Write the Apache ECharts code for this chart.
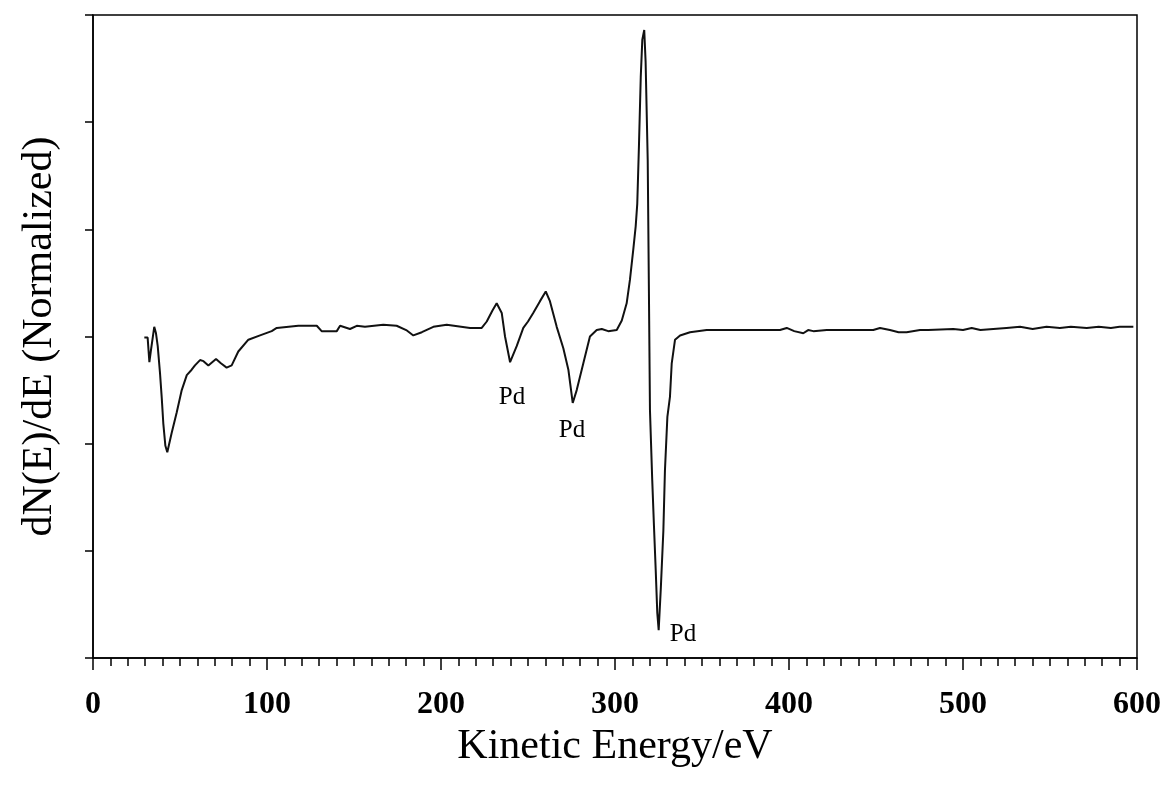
<!DOCTYPE html>
<html>
<head>
<meta charset="utf-8">
<title>Auger spectrum</title>
<script src="https://cdn.jsdelivr.net/npm/echarts@6/dist/echarts.min.js"></script>
<style>
  html, body { margin: 0; padding: 0; background: #fff; }
  #chart { width: 1162px; height: 791px; }
</style>
</head>
<body>
<div id="chart"></div>
<script>
// kinetic energy (eV) and dN(E)/dE
const energy = [
  29.5, 31.4, 32.4, 33.2, 35.2, 36.2, 37.2, 38.5, 39.5, 40.4, 41.6, 42.7, 45.2, 48.1, 51.0,
  53.9, 56.7, 58.6, 61.5, 63.5, 66.3, 70.7, 73.5, 76.8, 79.7, 83.5, 89.3, 96.0, 102.7, 105.6,
  118.0, 128.6, 131.4, 140.1, 142.0, 147.7, 151.6, 156.3, 166.8, 174.5, 180.0, 184.1, 189.0, 195.6, 203.3,
  216.7, 223.4, 226.3, 229.5, 232.0, 234.9, 236.8, 239.7, 243.5, 247.3, 250.0, 253.0, 256.9, 260.2, 262.6,
  266.5, 270.3, 273.2, 275.7, 278.0, 281.8, 285.6, 289.5, 292.4, 296.1, 301.0, 303.9, 306.7, 308.6, 310.5,
  311.9, 312.8, 313.8, 314.8, 315.7, 316.8, 317.6, 318.8, 319.5, 320.1, 321.4, 322.4, 323.4, 324.3, 325.1,
  326.3, 327.8, 328.7, 330.1, 331.6, 332.6, 334.5, 337.4, 343.1, 352.7, 370.0, 380.0, 394.8, 398.7, 403.0,
  408.2, 411.0, 414.0, 421.7, 448.4, 452.3, 458.0, 463.0, 467.6, 475.3, 480.0, 494.4, 500.0, 505.0, 510.0,
  517.4, 525.0, 532.8, 540.0, 548.0, 555.7, 562.0, 571.1, 578.0, 585.0, 590.0, 597.9
];
const intensity = [
  2.99, 2.99, 2.76, 2.86, 3.09, 3.03, 2.91, 2.66, 2.43, 2.19, 1.98, 1.92, 2.10, 2.29, 2.50,
  2.64, 2.69, 2.73, 2.78, 2.77, 2.73, 2.79, 2.75, 2.71, 2.73, 2.86, 2.97, 3.01, 3.05, 3.08,
  3.10, 3.10, 3.05, 3.05, 3.10, 3.07, 3.10, 3.09, 3.11, 3.10, 3.06, 3.01, 3.04, 3.09, 3.11,
  3.08, 3.08, 3.14, 3.24, 3.31, 3.22, 3.00, 2.76, 2.91, 3.08, 3.14, 3.22, 3.33, 3.42, 3.33,
  3.09, 2.89, 2.69, 2.38, 2.50, 2.75, 3.00, 3.06, 3.07, 3.05, 3.06, 3.15, 3.31, 3.53, 3.81,
  4.03, 4.24, 4.80, 5.42, 5.77, 5.86, 5.56, 4.65, 3.40, 2.31, 1.66, 1.23, 0.82, 0.42, 0.26,
  0.64, 1.19, 1.75, 2.25, 2.44, 2.75, 2.97, 3.01, 3.04, 3.06, 3.06, 3.06, 3.06, 3.08, 3.05,
  3.03, 3.06, 3.05, 3.06, 3.06, 3.08, 3.06, 3.04, 3.04, 3.06, 3.06, 3.07, 3.06, 3.08, 3.06,
  3.07, 3.08, 3.09, 3.07, 3.09, 3.08, 3.09, 3.08, 3.09, 3.08, 3.09, 3.09
];

// peak annotations
const peakNames = ['Pd', 'Pd', 'Pd'];
const peakEnergy = [240.8, 275.3, 339.1];
const peakLevel = [2.43, 2.12, 0.22];

const xTicks = ['0', '100', '200', '300', '400', '500', '600'];

const chart = echarts.init(document.getElementById('chart'));

const lineData = energy.map((e, i) => [e, intensity[i]]);
const labelData = peakNames.map((n, i) => ({ name: n, coord: [peakEnergy[i], peakLevel[i]], value: n }));

const option = {
  backgroundColor: '#fff',
  animation: false,
  grid: {
    left: 93,
    right: 25,
    top: 15,
    bottom: 133,
    outerBoundsMode: 'none',
    containLabel: false,
    show: true,
    borderColor: '#000',
    borderWidth: 1.5
  },
  xAxis: {
    type: 'value',
    min: 0,
    max: 600,
    interval: 100,
    name: 'Kinetic Energy/eV',
    nameLocation: 'middle',
    nameGap: 61,
    nameTextStyle: {
      fontFamily: 'Liberation Serif',
      fontSize: 42,
      color: '#000'
    },
    axisLine: { lineStyle: { color: '#000', width: 1.5 } },
    axisTick: { show: true, length: 12, lineStyle: { color: '#000', width: 1.5 } },
    minorTick: { show: true, splitNumber: 10, length: 8, lineStyle: { color: '#000', width: 1.5 } },
    axisLabel: {
      margin: 31,
      fontFamily: 'Liberation Serif',
      fontWeight: 'bold',
      fontSize: 32,
      color: '#000',
      formatter: (v) => xTicks[Math.round(v / 100)]
    },
    splitLine: { show: false }
  },
  yAxis: {
    type: 'value',
    min: 0,
    max: 6,
    interval: 1,
    name: 'dN(E)/dE (Normalized)',
    nameLocation: 'middle',
    nameGap: 32,
    nameTextStyle: {
      fontFamily: 'Liberation Serif',
      fontSize: 42,
      color: '#000'
    },
    axisLine: { show: true, lineStyle: { color: '#000', width: 1.5 } },
    axisTick: { show: true, length: 8, lineStyle: { color: '#000', width: 1.5 } },
    axisLabel: { show: false },
    splitLine: { show: false }
  },
  series: [
    {
      type: 'line',
      data: lineData,
      showSymbol: false,
      symbol: 'none',
      lineStyle: { color: '#111', width: 2 },
      markPoint: {
        symbol: 'circle',
        symbolSize: 0,
        label: {
          show: true,
          formatter: '{b}',
          fontFamily: 'Liberation Serif',
          fontSize: 25,
          color: '#000'
        },
        data: labelData
      }
    }
  ]
};

chart.setOption(option);
</script>
</body>
</html>
